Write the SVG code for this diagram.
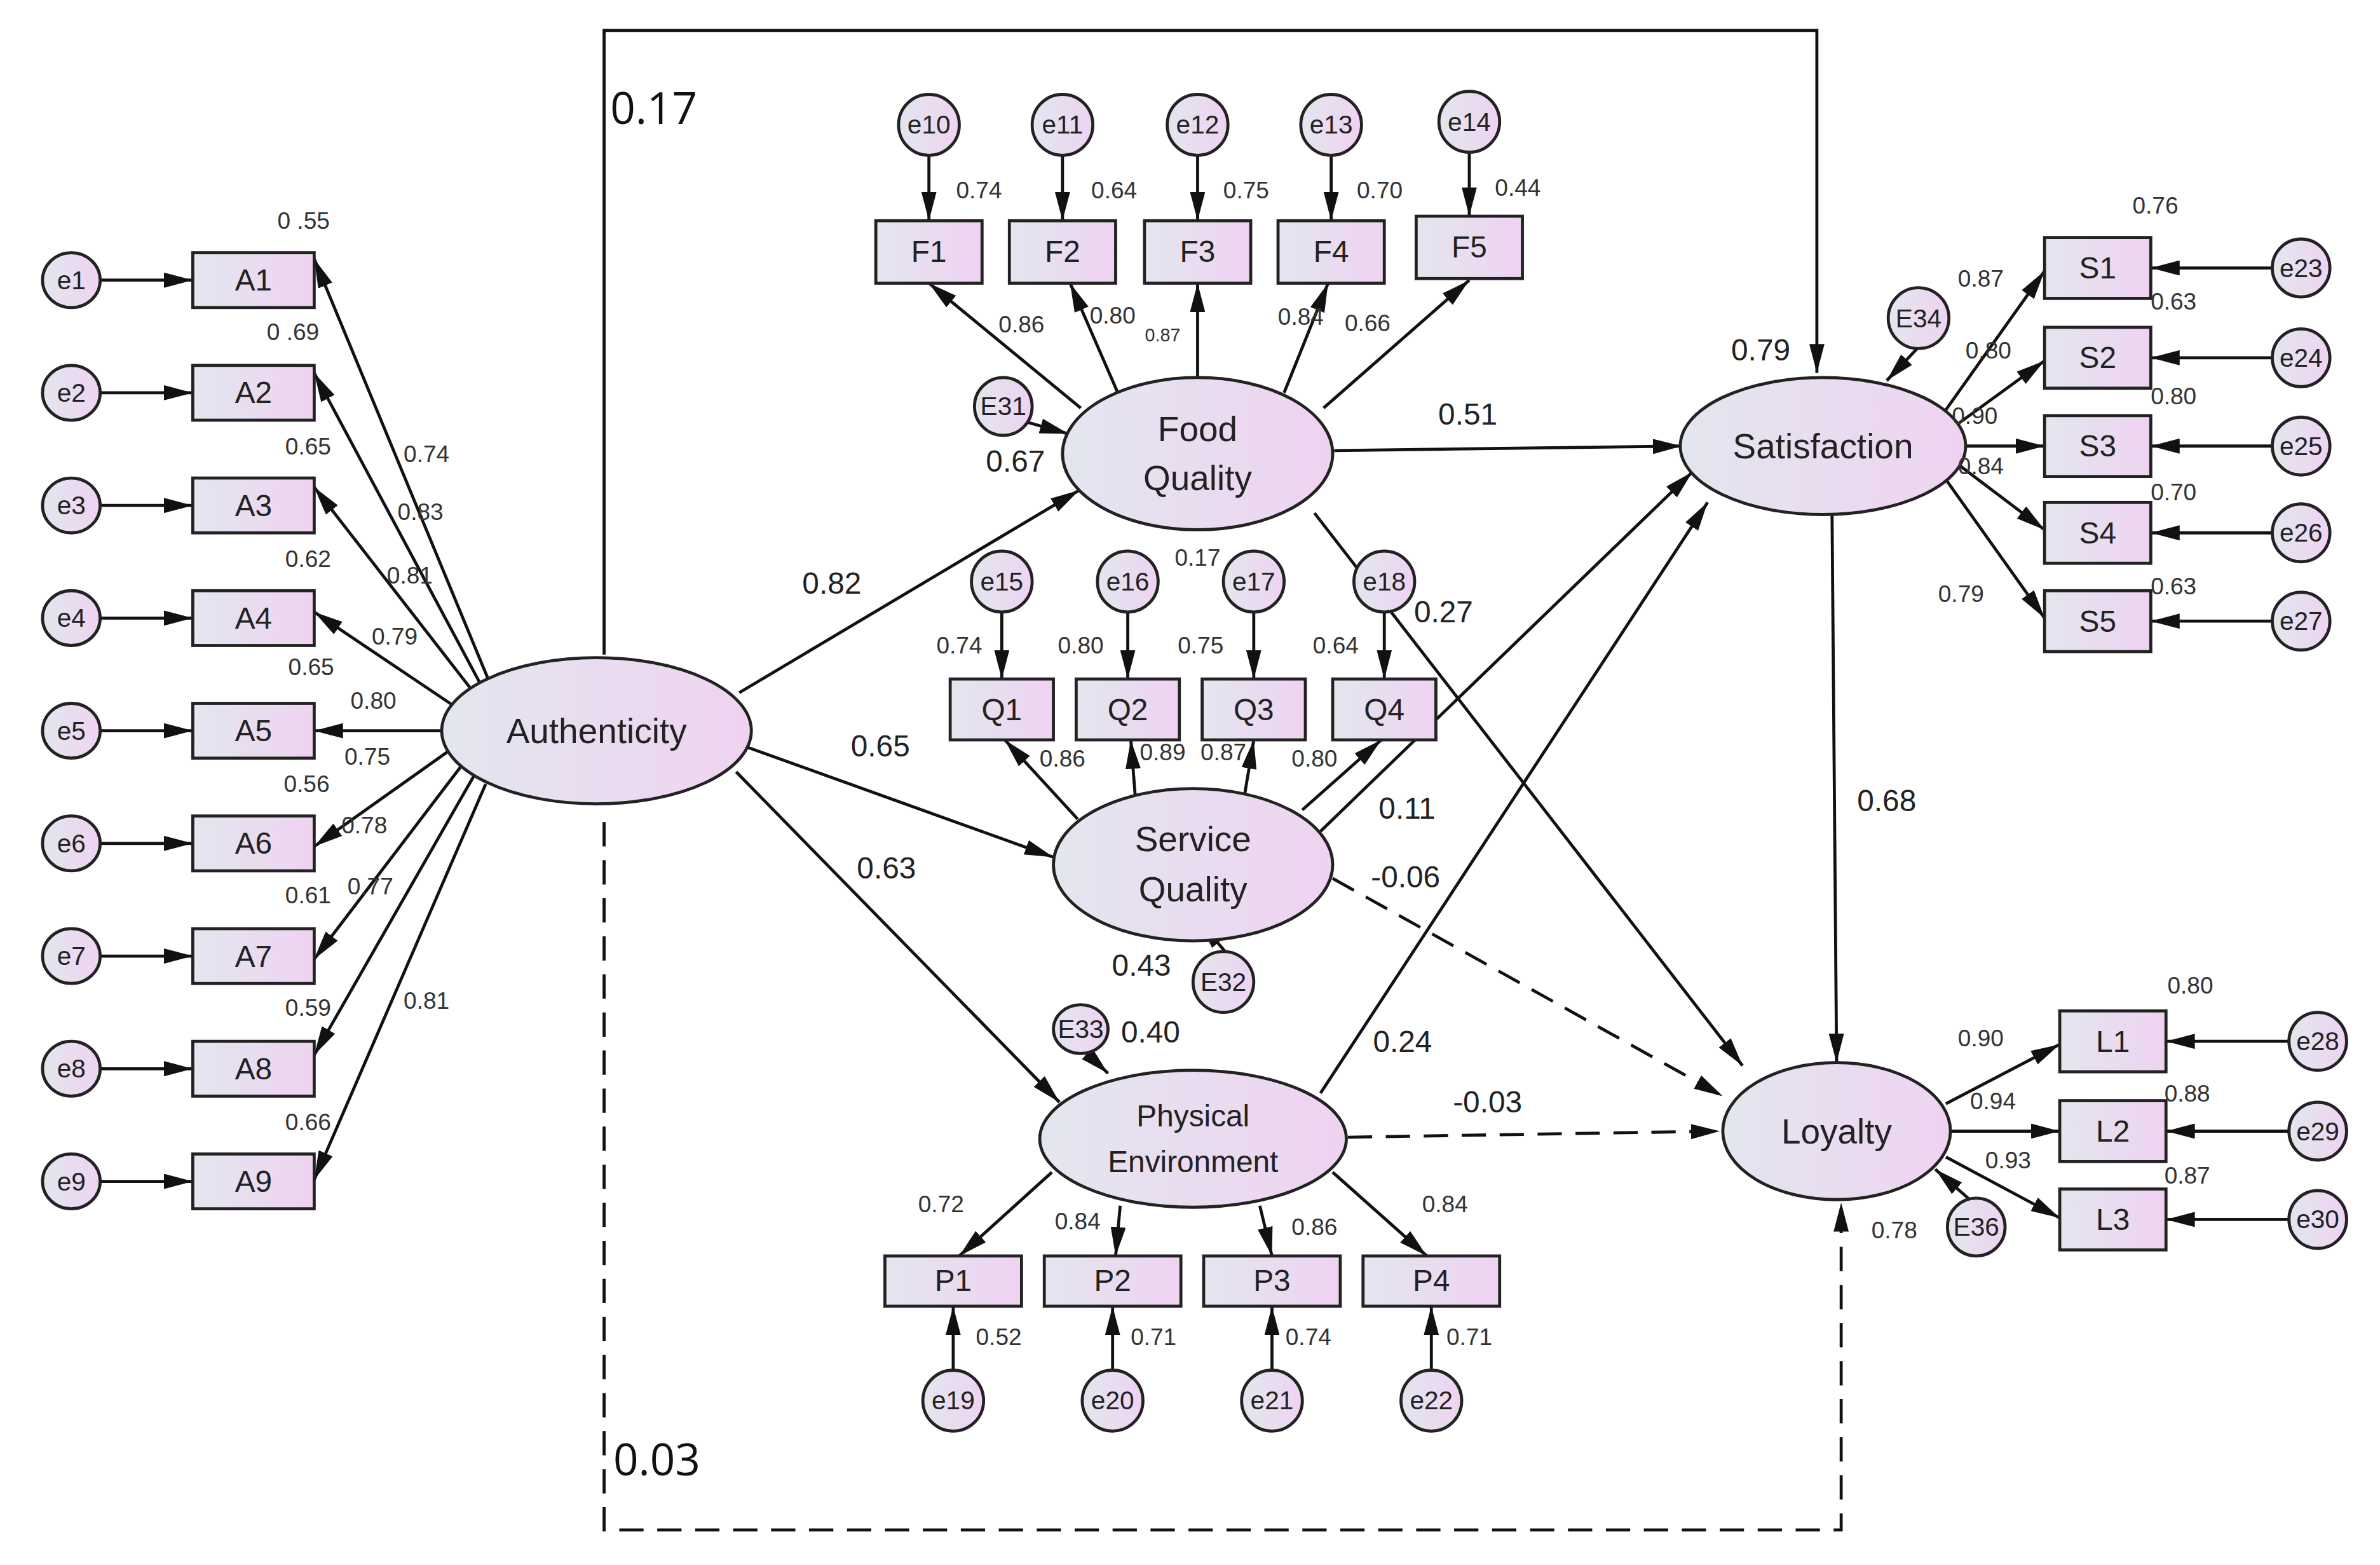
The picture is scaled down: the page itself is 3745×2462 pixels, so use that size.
<svg xmlns="http://www.w3.org/2000/svg" width="3745" height="2462" viewBox="0 0 3745 2462">
<defs>
<linearGradient id="g" x1="0" x2="1" y1="0" y2="0"><stop offset="0" stop-color="#e3e6ef"/><stop offset="1" stop-color="#efd3f1"/></linearGradient>
<marker id="a" markerUnits="userSpaceOnUse" markerWidth="20" markerHeight="10" refX="19" refY="5" orient="auto"><path d="M0,0 L19,5 L0,10 z" fill="#111"/></marker>
<style>
.n{fill:url(#g);stroke:#222;stroke-width:2}
.t{font-family:"Liberation Sans",Arial,sans-serif;fill:#222;text-anchor:middle;dominant-baseline:central}
.b{font-size:20px}.e{font-size:17px}.s{font-size:15.5px;fill:#333}.p{font-size:20px}.l{font-size:23px}
.c line,.c path,.c polyline{stroke:#111;stroke-width:2;fill:none}
.c .ar{marker-end:url(#a)}
.c .d{stroke-dasharray:16 9}
</style>
</defs>
<rect width="3745" height="2462" fill="#fff"/>
<g transform="scale(2.3884,2.395)">
<g class="c" id="connectors">
<polyline points="398,430 398,20 1197,20 1197,245" class="ar"/>
<polyline points="398,540 398,1005 1213,1005 1213,790" class="ar d"/>
<line x1="66" y1="184" x2="127" y2="184" class="ar"/><line x1="66" y1="258" x2="127" y2="258" class="ar"/><line x1="66" y1="332" x2="127" y2="332" class="ar"/><line x1="66" y1="406" x2="127" y2="406" class="ar"/><line x1="66" y1="480" x2="127" y2="480" class="ar"/><line x1="66" y1="554" x2="127" y2="554" class="ar"/><line x1="66" y1="628" x2="127" y2="628" class="ar"/><line x1="66" y1="702" x2="127" y2="702" class="ar"/><line x1="66" y1="776" x2="127" y2="776" class="ar"/>
<line x1="322" y1="447" x2="207" y2="170" class="ar"/><line x1="318" y1="452" x2="207" y2="245" class="ar"/><line x1="313" y1="456" x2="207" y2="320" class="ar"/><line x1="298" y1="463" x2="207" y2="402" class="ar"/><line x1="292" y1="480" x2="207" y2="480" class="ar"/><line x1="296" y1="493" x2="207" y2="556" class="ar"/><line x1="304" y1="503" x2="207" y2="630" class="ar"/><line x1="312" y1="510" x2="207" y2="693" class="ar"/><line x1="320" y1="515" x2="207" y2="775" class="ar"/>
<line x1="612" y1="102" x2="612" y2="145" class="ar"/><line x1="700" y1="102" x2="700" y2="145" class="ar"/><line x1="789" y1="102" x2="789" y2="145" class="ar"/><line x1="877" y1="102" x2="877" y2="145" class="ar"/><line x1="968" y1="100" x2="968" y2="142" class="ar"/>
<line x1="712" y1="268" x2="612" y2="186" class="ar"/><line x1="736" y1="257" x2="705" y2="186" class="ar"/><line x1="789" y1="248" x2="789" y2="186" class="ar"/><line x1="846" y1="258" x2="875" y2="186" class="ar"/><line x1="872" y1="268" x2="968" y2="184" class="ar"/>
<line x1="672" y1="276" x2="704" y2="285" class="ar"/>
<line x1="487" y1="455" x2="711" y2="322" class="ar"/>
<line x1="490" y1="490" x2="694" y2="563" class="ar"/>
<line x1="485" y1="507" x2="698" y2="724" class="ar"/>
<line x1="879" y1="296" x2="1108" y2="293" class="ar"/>
<line x1="866" y1="337" x2="1148" y2="700" class="ar"/>
<line x1="660" y1="402" x2="660" y2="446" class="ar"/><line x1="743" y1="402" x2="743" y2="446" class="ar"/><line x1="826" y1="402" x2="826" y2="446" class="ar"/><line x1="912" y1="402" x2="912" y2="446" class="ar"/>
<line x1="710" y1="538" x2="662" y2="486" class="ar"/><line x1="748" y1="524" x2="745" y2="486" class="ar"/><line x1="820" y1="522" x2="826" y2="486" class="ar"/><line x1="858" y1="532" x2="910" y2="486" class="ar"/>
<line x1="870" y1="546" x2="1115" y2="310" class="ar"/>
<line x1="878" y1="577" x2="1135" y2="720" class="ar d"/>
<line x1="808" y1="626" x2="790" y2="605" class="ar"/>
<line x1="714" y1="690" x2="730" y2="705" class="ar"/>
<line x1="870" y1="718" x2="1125" y2="330" class="ar"/>
<line x1="888" y1="747" x2="1133" y2="743" class="ar d"/>
<line x1="693" y1="770" x2="632" y2="825" class="ar"/><line x1="738" y1="792" x2="735" y2="825" class="ar"/><line x1="830" y1="792" x2="838" y2="825" class="ar"/><line x1="878" y1="770" x2="940" y2="825" class="ar"/>
<line x1="628" y1="900" x2="628" y2="858" class="ar"/><line x1="733" y1="900" x2="733" y2="858" class="ar"/><line x1="838" y1="900" x2="838" y2="858" class="ar"/><line x1="943" y1="900" x2="943" y2="858" class="ar"/>
<line x1="1280" y1="272" x2="1347" y2="178" class="ar"/><line x1="1285" y1="282" x2="1347" y2="237" class="ar"/><line x1="1294" y1="293" x2="1347" y2="293" class="ar"/><line x1="1290" y1="305" x2="1347" y2="348" class="ar"/><line x1="1282" y1="315" x2="1347" y2="406" class="ar"/>
<line x1="1497" y1="176" x2="1417" y2="176" class="ar"/><line x1="1497" y1="235" x2="1417" y2="235" class="ar"/><line x1="1497" y1="293" x2="1417" y2="293" class="ar"/><line x1="1497" y1="350" x2="1417" y2="350" class="ar"/><line x1="1497" y1="408" x2="1417" y2="408" class="ar"/>
<line x1="1264" y1="228" x2="1243" y2="250" class="ar"/>
<line x1="1207" y1="338" x2="1210" y2="698" class="ar"/>
<line x1="1282" y1="725" x2="1357" y2="686" class="ar"/><line x1="1285" y1="743" x2="1357" y2="743" class="ar"/><line x1="1282" y1="760" x2="1357" y2="800" class="ar"/>
<line x1="1508" y1="684" x2="1427" y2="684" class="ar"/><line x1="1508" y1="743" x2="1427" y2="743" class="ar"/><line x1="1508" y1="801" x2="1427" y2="801" class="ar"/>
<line x1="1300" y1="790" x2="1275" y2="768" class="ar"/>
</g>
<g id="e1"><ellipse class="n" cx="47" cy="184" rx="19" ry="18"/><text class="t e" x="47" y="184">e1</text></g>
<g id="e2"><ellipse class="n" cx="47" cy="258" rx="19" ry="18"/><text class="t e" x="47" y="258">e2</text></g>
<g id="e3"><ellipse class="n" cx="47" cy="332" rx="19" ry="18"/><text class="t e" x="47" y="332">e3</text></g>
<g id="e4"><ellipse class="n" cx="47" cy="406" rx="19" ry="18"/><text class="t e" x="47" y="406">e4</text></g>
<g id="e5"><ellipse class="n" cx="47" cy="480" rx="19" ry="18"/><text class="t e" x="47" y="480">e5</text></g>
<g id="e6"><ellipse class="n" cx="47" cy="554" rx="19" ry="18"/><text class="t e" x="47" y="554">e6</text></g>
<g id="e7"><ellipse class="n" cx="47" cy="628" rx="19" ry="18"/><text class="t e" x="47" y="628">e7</text></g>
<g id="e8"><ellipse class="n" cx="47" cy="702" rx="19" ry="18"/><text class="t e" x="47" y="702">e8</text></g>
<g id="e9"><ellipse class="n" cx="47" cy="776" rx="19" ry="18"/><text class="t e" x="47" y="776">e9</text></g>
<g id="A1"><rect class="n" x="127" y="166" width="80" height="36"/><text class="t b" x="167" y="184">A1</text></g>
<g id="A2"><rect class="n" x="127" y="240" width="80" height="36"/><text class="t b" x="167" y="258">A2</text></g>
<g id="A3"><rect class="n" x="127" y="314" width="80" height="36"/><text class="t b" x="167" y="332">A3</text></g>
<g id="A4"><rect class="n" x="127" y="388" width="80" height="36"/><text class="t b" x="167" y="406">A4</text></g>
<g id="A5"><rect class="n" x="127" y="462" width="80" height="36"/><text class="t b" x="167" y="480">A5</text></g>
<g id="A6"><rect class="n" x="127" y="536" width="80" height="36"/><text class="t b" x="167" y="554">A6</text></g>
<g id="A7"><rect class="n" x="127" y="610" width="80" height="36"/><text class="t b" x="167" y="628">A7</text></g>
<g id="A8"><rect class="n" x="127" y="684" width="80" height="36"/><text class="t b" x="167" y="702">A8</text></g>
<g id="A9"><rect class="n" x="127" y="758" width="80" height="36"/><text class="t b" x="167" y="776">A9</text></g>
<g id="Authenticity"><ellipse class="n" cx="393" cy="480" rx="102" ry="48"/><text class="t l" x="393" y="480">Authenticity</text></g>
<g id="FoodQuality"><ellipse class="n" cx="789" cy="298" rx="89" ry="50"/><text class="t l" x="789" y="282">Food</text><text class="t l" x="789" y="314">Quality</text></g>
<g id="ServiceQuality"><ellipse class="n" cx="786" cy="568" rx="92" ry="50"/><text class="t l" x="786" y="551">Service</text><text class="t l" x="786" y="584">Quality</text></g>
<g id="PhysicalEnvironment"><ellipse class="n" cx="786" cy="748" rx="101" ry="45"/><text class="t p" x="786" y="733">Physical</text><text class="t p" x="786" y="763">Environment</text></g>
<g id="Satisfaction"><ellipse class="n" cx="1201" cy="293" rx="94" ry="45"/><text class="t l" x="1201" y="293">Satisfaction</text></g>
<g id="Loyalty"><ellipse class="n" cx="1210" cy="743" rx="75" ry="45"/><text class="t l" x="1210" y="743">Loyalty</text></g>
<g id="e10"><ellipse class="n" cx="612" cy="82" rx="20" ry="20"/><text class="t e" x="612" y="82">e10</text></g>
<g id="e11"><ellipse class="n" cx="700" cy="82" rx="20" ry="20"/><text class="t e" x="700" y="82">e11</text></g>
<g id="e12"><ellipse class="n" cx="789" cy="82" rx="20" ry="20"/><text class="t e" x="789" y="82">e12</text></g>
<g id="e13"><ellipse class="n" cx="877" cy="82" rx="20" ry="20"/><text class="t e" x="877" y="82">e13</text></g>
<g id="e14"><ellipse class="n" cx="968" cy="80" rx="20" ry="20"/><text class="t e" x="968" y="80">e14</text></g>
<g id="F1"><rect class="n" x="577" y="145" width="70" height="41"/><text class="t b" x="612" y="165">F1</text></g>
<g id="F2"><rect class="n" x="665" y="145" width="70" height="41"/><text class="t b" x="700" y="165">F2</text></g>
<g id="F3"><rect class="n" x="754" y="145" width="70" height="41"/><text class="t b" x="789" y="165">F3</text></g>
<g id="F4"><rect class="n" x="842" y="145" width="70" height="41"/><text class="t b" x="877" y="165">F4</text></g>
<g id="F5"><rect class="n" x="933" y="142" width="70" height="41"/><text class="t b" x="968" y="162">F5</text></g>
<g id="E31"><ellipse class="n" cx="661" cy="267" rx="19" ry="19"/><text class="t e" x="661" y="267">E31</text></g>
<g id="e15"><ellipse class="n" cx="660" cy="382" rx="20" ry="20"/><text class="t e" x="660" y="382">e15</text></g>
<g id="e16"><ellipse class="n" cx="743" cy="382" rx="20" ry="20"/><text class="t e" x="743" y="382">e16</text></g>
<g id="e17"><ellipse class="n" cx="826" cy="382" rx="20" ry="20"/><text class="t e" x="826" y="382">e17</text></g>
<g id="e18"><ellipse class="n" cx="912" cy="382" rx="20" ry="20"/><text class="t e" x="912" y="382">e18</text></g>
<g id="Q1"><rect class="n" x="626" y="446" width="68" height="40"/><text class="t b" x="660" y="466">Q1</text></g>
<g id="Q2"><rect class="n" x="709" y="446" width="68" height="40"/><text class="t b" x="743" y="466">Q2</text></g>
<g id="Q3"><rect class="n" x="792" y="446" width="68" height="40"/><text class="t b" x="826" y="466">Q3</text></g>
<g id="Q4"><rect class="n" x="878" y="446" width="68" height="40"/><text class="t b" x="912" y="466">Q4</text></g>
<g id="E32"><ellipse class="n" cx="806" cy="645" rx="20" ry="20"/><text class="t e" x="806" y="645">E32</text></g>
<g id="E33"><ellipse class="n" cx="712" cy="676" rx="18" ry="16"/><text class="t e" x="712" y="676">E33</text></g>
<g id="P1"><rect class="n" x="583" y="825" width="90" height="33"/><text class="t b" x="628" y="841">P1</text></g>
<g id="P2"><rect class="n" x="688" y="825" width="90" height="33"/><text class="t b" x="733" y="841">P2</text></g>
<g id="P3"><rect class="n" x="793" y="825" width="90" height="33"/><text class="t b" x="838" y="841">P3</text></g>
<g id="P4"><rect class="n" x="898" y="825" width="90" height="33"/><text class="t b" x="943" y="841">P4</text></g>
<g id="e19"><ellipse class="n" cx="628" cy="920" rx="20" ry="20"/><text class="t e" x="628" y="920">e19</text></g>
<g id="e20"><ellipse class="n" cx="733" cy="920" rx="20" ry="20"/><text class="t e" x="733" y="920">e20</text></g>
<g id="e21"><ellipse class="n" cx="838" cy="920" rx="20" ry="20"/><text class="t e" x="838" y="920">e21</text></g>
<g id="e22"><ellipse class="n" cx="943" cy="920" rx="20" ry="20"/><text class="t e" x="943" y="920">e22</text></g>
<g id="E34"><ellipse class="n" cx="1264" cy="209" rx="20" ry="20"/><text class="t e" x="1264" y="209">E34</text></g>
<g id="S1"><rect class="n" x="1347" y="156" width="70" height="40"/><text class="t b" x="1382" y="176">S1</text></g>
<g id="S2"><rect class="n" x="1347" y="215" width="70" height="40"/><text class="t b" x="1382" y="235">S2</text></g>
<g id="S3"><rect class="n" x="1347" y="273" width="70" height="40"/><text class="t b" x="1382" y="293">S3</text></g>
<g id="S4"><rect class="n" x="1347" y="330" width="70" height="40"/><text class="t b" x="1382" y="350">S4</text></g>
<g id="S5"><rect class="n" x="1347" y="388" width="70" height="40"/><text class="t b" x="1382" y="408">S5</text></g>
<g id="e23"><ellipse class="n" cx="1516" cy="176" rx="19" ry="19"/><text class="t e" x="1516" y="176">e23</text></g>
<g id="e24"><ellipse class="n" cx="1516" cy="235" rx="19" ry="19"/><text class="t e" x="1516" y="235">e24</text></g>
<g id="e25"><ellipse class="n" cx="1516" cy="293" rx="19" ry="19"/><text class="t e" x="1516" y="293">e25</text></g>
<g id="e26"><ellipse class="n" cx="1516" cy="350" rx="19" ry="19"/><text class="t e" x="1516" y="350">e26</text></g>
<g id="e27"><ellipse class="n" cx="1516" cy="408" rx="19" ry="19"/><text class="t e" x="1516" y="408">e27</text></g>
<g id="L1"><rect class="n" x="1357" y="664" width="70" height="40"/><text class="t b" x="1392" y="684">L1</text></g>
<g id="L2"><rect class="n" x="1357" y="723" width="70" height="40"/><text class="t b" x="1392" y="743">L2</text></g>
<g id="L3"><rect class="n" x="1357" y="781" width="70" height="40"/><text class="t b" x="1392" y="801">L3</text></g>
<g id="e28"><ellipse class="n" cx="1527" cy="684" rx="19" ry="19"/><text class="t e" x="1527" y="684">e28</text></g>
<g id="e29"><ellipse class="n" cx="1527" cy="743" rx="19" ry="19"/><text class="t e" x="1527" y="743">e29</text></g>
<g id="e30"><ellipse class="n" cx="1527" cy="801" rx="19" ry="19"/><text class="t e" x="1527" y="801">e30</text></g>
<g id="E36"><ellipse class="n" cx="1302" cy="806" rx="19" ry="19"/><text class="t e" x="1302" y="806">E36</text></g>
<g id="labels">
<text class="t" style="font-family:'Open Sans','Liberation Sans',sans-serif;font-size:29px;fill:#111;text-anchor:start" x="402" y="70">0.17</text>
<text class="t" style="font-family:'Open Sans','Liberation Sans',sans-serif;font-size:29px;fill:#111;text-anchor:start" x="404" y="958">0.03</text>
<text class="t s" x="200" y="145">0 .55</text><text class="t s" x="193" y="218">0 .69</text><text class="t s" x="203" y="293">0.65</text><text class="t s" x="203" y="367">0.62</text><text class="t s" x="205" y="438">0.65</text><text class="t s" x="246" y="460">0.80</text><text class="t s" x="242" y="497">0.75</text><text class="t s" x="202" y="515">0.56</text><text class="t s" x="240" y="542">0.78</text><text class="t s" x="203" y="588">0.61</text><text class="t s" x="244" y="582">0.77</text><text class="t s" x="203" y="662">0.59</text><text class="t s" x="203" y="737">0.66</text>
<text class="t s" x="281" y="298">0.74</text><text class="t s" x="277" y="336">0.83</text><text class="t s" x="270" y="378">0.81</text><text class="t s" x="260" y="418">0.79</text><text class="t s" x="281" y="657">0.81</text>
<text class="t s" x="645" y="125">0.74</text><text class="t s" x="734" y="125">0.64</text><text class="t s" x="821" y="125">0.75</text><text class="t s" x="909" y="125">0.70</text><text class="t s" x="1000" y="123">0.44</text>
<text class="t s" x="673" y="213">0.86</text><text class="t s" x="733" y="207">0.80</text><text class="t s" style="font-size:12px" x="766" y="220">0.87</text><text class="t s" x="857" y="208">0.84</text><text class="t s" x="901" y="212">0.66</text>
<text class="t p" x="669" y="303">0.67</text><text class="t p" x="967" y="272">0.51</text><text class="t p" x="548" y="383">0.82</text><text class="t s" x="789" y="366">0.17</text><text class="t p" x="951" y="402">0.27</text>
<text class="t s" x="632" y="424">0.74</text><text class="t s" x="712" y="424">0.80</text><text class="t s" x="791" y="424">0.75</text><text class="t s" x="880" y="424">0.64</text>
<text class="t s" x="700" y="498">0.86</text><text class="t s" x="766" y="494">0.89</text><text class="t s" x="806" y="494">0.87</text><text class="t s" x="866" y="498">0.80</text>
<text class="t p" x="580" y="490">0.65</text><text class="t p" x="927" y="531">0.11</text><text class="t p" x="926" y="576">-0.06</text><text class="t p" x="584" y="570">0.63</text><text class="t p" x="752" y="634">0.43</text><text class="t p" x="758" y="678">0.40</text><text class="t p" x="924" y="684">0.24</text><text class="t p" x="980" y="724">-0.03</text>
<text class="t s" x="620" y="791">0.72</text><text class="t s" x="710" y="802">0.84</text><text class="t s" x="866" y="806">0.86</text><text class="t s" x="952" y="791">0.84</text>
<text class="t s" x="658" y="878">0.52</text><text class="t s" x="760" y="878">0.71</text><text class="t s" x="862" y="878">0.74</text><text class="t s" x="968" y="878">0.71</text>
<text class="t s" x="1420" y="135">0.76</text><text class="t s" x="1305" y="183">0.87</text><text class="t s" x="1432" y="198">0.63</text><text class="t s" x="1310" y="230">0.80</text><text class="t s" x="1301" y="273">0.90</text><text class="t s" x="1432" y="260">0.80</text><text class="t s" x="1305" y="306">0.84</text><text class="t s" x="1432" y="323">0.70</text><text class="t s" x="1292" y="390">0.79</text><text class="t s" x="1432" y="385">0.63</text>
<text class="t p" x="1160" y="230">0.79</text><text class="t p" x="1243" y="526">0.68</text>
<text class="t s" x="1443" y="647">0.80</text><text class="t s" x="1305" y="682">0.90</text><text class="t s" x="1313" y="723">0.94</text><text class="t s" x="1441" y="718">0.88</text><text class="t s" x="1323" y="762">0.93</text><text class="t s" x="1441" y="772">0.87</text><text class="t s" x="1248" y="808">0.78</text>
</g>
</g>
</svg>
